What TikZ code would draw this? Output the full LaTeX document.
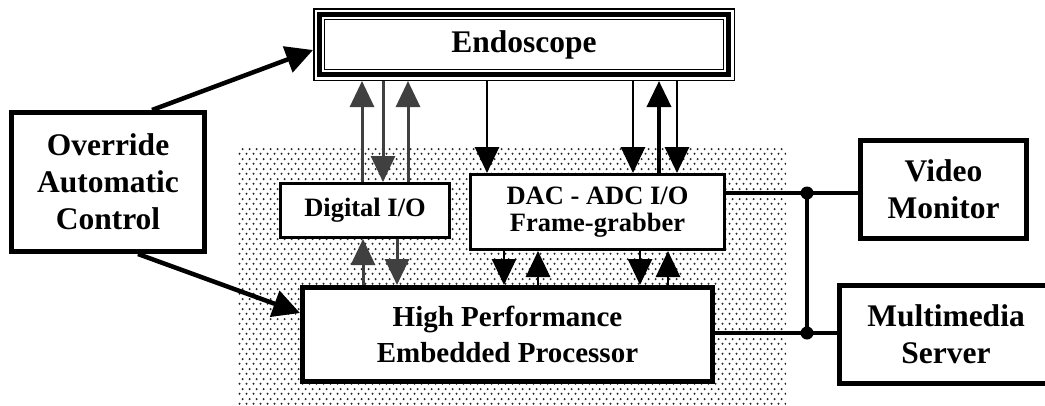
\documentclass[tikz,border=0pt]{standalone}
\usepackage{fontspec}
\setmainfont{Liberation Serif}
\usetikzlibrary{arrows.meta,patterns.meta}

% staggered halftone dots for the processing board
\tikzdeclarepattern{
  name=halftone,
  type=uncolored,
  bounding box={(0pt,0pt) and (7pt,10pt)},
  tile size={(7pt,10pt)},
  code={
    \fill (1.75pt,2.5pt) circle (1.2pt);
    \fill (5.25pt,7.5pt) circle (1.2pt);
  }
}

\definecolor{arrgray}{RGB}{64,64,64}

\begin{document}
\begin{tikzpicture}[x=1pt,y=-1pt,
  blk/.style={draw, fill=white, inner sep=0pt, align=center},
  bigf/.style={font=\fontsize{31.5}{37}\selectfont\bfseries},
  midf/.style={font=\fontsize{29}{36}\selectfont\bfseries},
  smallf/.style={font=\fontsize{26.5}{27}\selectfont\bfseries},
  garr/.style={draw=arrgray, line width=3pt, -{Triangle[width=24pt,length=26pt]}},
  barr/.style={draw=black, line width=2.8pt, -{Triangle[width=24pt,length=26pt]}},
  carr/.style={draw=black, line width=4.5pt, -{Triangle[width=27pt,length=27pt]}},
  bus/.style={draw=black, line width=4.5pt}]

\useasboundingbox (0,0) rectangle (1045,405);
\clip (0,0) rectangle (1045,405);

% board background
\fill[pattern=halftone, pattern color=black!85] (238,145) rectangle (786,405);

% blocks
\node[blk, line width=1.5pt, minimum width=420.5pt, minimum height=71.5pt, bigf] (endo) at (524,44.5) {Endoscope};
\draw[line width=5pt] ([shift={(6.5,6.5)}]endo.north west) rectangle ([shift={(-6.5,-6.5)}]endo.south east);
\draw[line width=1.3pt] ([shift={(11.5,11.5)}]endo.north west) rectangle ([shift={(-11.5,-11.5)}]endo.south east);

\node[blk, line width=3pt, minimum width=169pt, minimum height=54pt, smallf] (dio) at (365,210.5) {Digital I/O};
\node[blk, line width=3pt, minimum width=254pt, minimum height=75pt, smallf] (dac) at (597.5,212) {DAC - ADC I/O\\Frame-grabber};
\node[blk, line width=5pt, minimum width=410pt, minimum height=94pt, midf] (cpu) at (507.5,334.5) {High Performance\\Embedded Processor};
\node[blk, line width=5pt, minimum width=193pt, minimum height=139pt, bigf] (ovr) at (108,182) {Override\\Automatic\\Control};
\node[blk, line width=5pt, minimum width=166pt, minimum height=98pt, bigf] (mon) at (943.5,189.5) {Video\\Monitor};
\node[blk, line width=5pt, minimum width=213pt, minimum height=98pt, bigf] (srv) at (946,334.5) {Multimedia\\Server};

% lanes of the vertical links
\coordinate (g1) at (362,0);
\coordinate (g2) at (383,0);
\coordinate (g3) at (408,0);
\coordinate (g4) at (363,0);
\coordinate (g5) at (397,0);
\coordinate (b1) at (487,0);
\coordinate (b2) at (633,0);
\coordinate (b3) at (659,0);
\coordinate (b4) at (677,0);
\coordinate (b5) at (504,0);
\coordinate (b6) at (538,0);
\coordinate (b7) at (640,0);
\coordinate (b8) at (668,0);

% digital I/O links
\draw[garr] (dio.north -| g1) -- (endo.south -| g1);
\draw[garr] (endo.south -| g2) -- (dio.north -| g2);
\draw[garr] (dio.north -| g3) -- (endo.south -| g3);
\draw[garr] (cpu.north -| g4) -- (dio.south -| g4);
\draw[garr] (dio.south -| g5) -- (cpu.north -| g5);

% analog / video links
\draw[barr] (endo.south -| b1) -- (dac.north -| b1);
\draw[barr] (endo.south -| b2) -- (dac.north -| b2);
\draw[barr, line width=3.8pt] (dac.north -| b3) -- (endo.south -| b3);
\draw[barr] (endo.south -| b4) -- (dac.north -| b4);
\draw[barr] (dac.south -| b5) -- (cpu.north -| b5);
\draw[barr] (cpu.north -| b6) -- (dac.south -| b6);
\draw[barr] (dac.south -| b7) -- (cpu.north -| b7);
\draw[barr] (cpu.north -| b8) -- (dac.south -| b8);

% manual override
\coordinate (o1) at (152,0);
\coordinate (o2) at (0,50);
\coordinate (o3) at (138,0);
\coordinate (o4) at (0,313);
\draw[carr] (ovr.north -| o1) -- (endo.west |- o2);
\draw[carr] (ovr.south -| o3) -- (cpu.west |- o4);

% output bus
\coordinate (j1) at (807,193);
\coordinate (j2) at (807,333);
\draw[bus] (dac.east |- j1) -- (mon.west |- j1);
\draw[bus] (cpu.east |- j2) -- (srv.west |- j2);
\draw[bus] (j1) -- (j2);
\fill (j1) circle (6.5pt);
\fill (j2) circle (6.5pt);

\end{tikzpicture}
\end{document}
